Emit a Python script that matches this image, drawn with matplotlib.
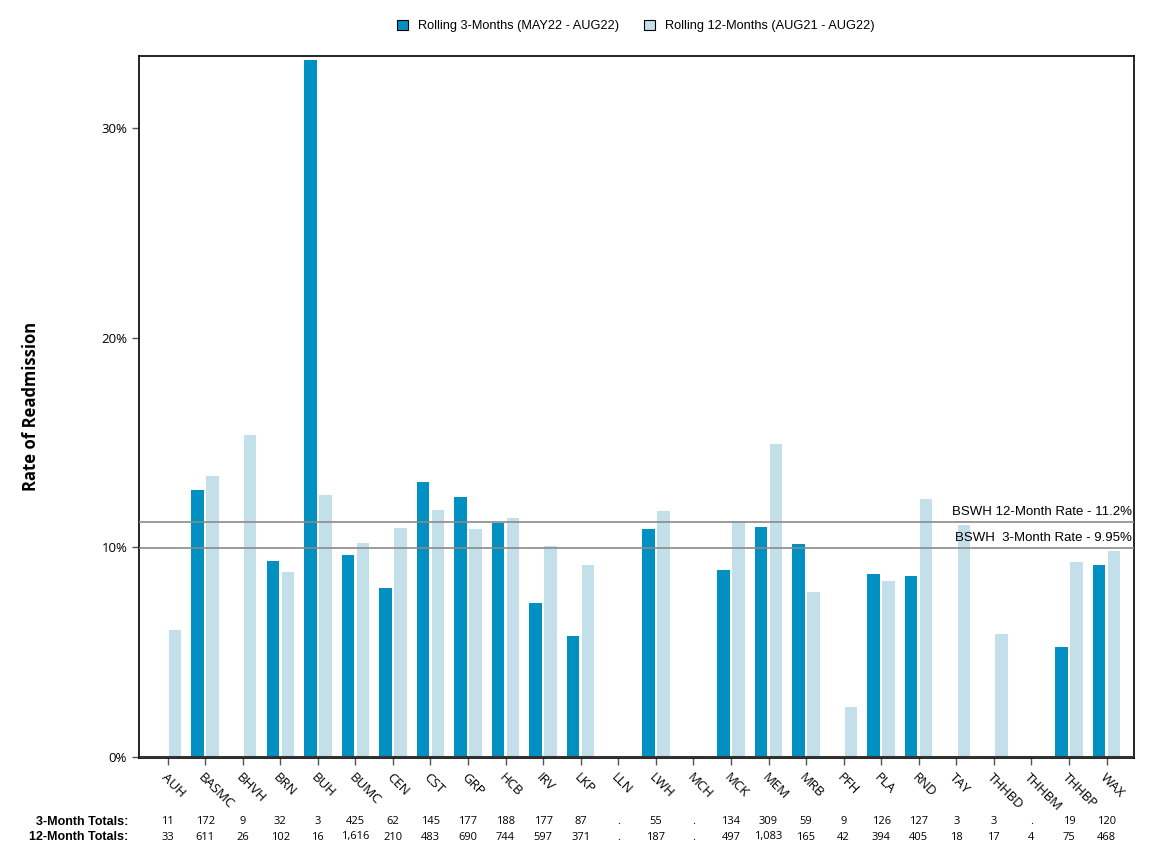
import numpy as np
import matplotlib
matplotlib.use("Agg")
import matplotlib.pyplot as plt
import matplotlib.transforms as mtransforms
from matplotlib.patches import Patch

# Hospital codes
sites = ["AUH", "BASMC", "BHVH", "BRN", "BUH", "BUMC", "CEN", "CST", "GRP", "HCB",
         "IRV", "LKP", "LLN", "LWH", "MCH", "MCK", "MEM", "MRB", "PFH", "PLA",
         "RND", "TAY", "THHBD", "THHBM", "THHBP", "WAX"]

# Readmission rates (%)
rate_3m = [0, 12.75, 0, 9.35, 33.24, 9.62, 8.05, 13.1, 12.4, 11.16,
           7.33, 5.75, 0, 10.89, 0, 8.94, 10.98, 10.14, 0, 8.71,
           8.65, 0, 0, 0, 5.25, 9.16]
rate_12m = [6.05, 13.38, 15.35, 8.81, 12.48, 10.19, 10.92, 11.78, 10.86, 11.38,
            10.05, 9.14, 0, 11.73, 0, 11.24, 14.92, 7.86, 2.38, 8.37,
            12.32, 11.08, 5.86, 0, 9.32, 9.81]

# Discharge totals (None = ".")
totals_3m = [11, 172, 9, 32, 3, 425, 62, 145, 177, 188, 177, 87, None, 55, None,
             134, 309, 59, 9, 126, 127, 3, 3, None, 19, 120]
totals_12m = [33, 611, 26, 102, 16, 1616, 210, 483, 690, 744, 597, 371, None, 187, None,
              497, 1083, 165, 42, 394, 405, 18, 17, 4, 75, 468]

system_12m = 11.2
system_3m = 9.95

dark = "#0090c1"
light = "#c3dfea"

fig = plt.figure(figsize=(11.52, 8.64), dpi=100)
ax = fig.add_axes([0.1207, 0.1227, 0.8633, 0.8128])

x = np.arange(len(sites))
ax.bar(x - 0.2, rate_3m, width=0.33, color=dark, zorder=2)
ax.bar(x + 0.2, rate_12m, width=0.33, color=light, zorder=2)

# System reference lines
ax.axhline(system_12m, color="#8a8a8a", lw=1.2, zorder=3)
ax.axhline(system_3m, color="#8a8a8a", lw=1.2, zorder=3)
ax.axhline(0, color="#333333", lw=2.2, zorder=4)
ax.text(25.68, system_12m + 0.2, "BSWH 12-Month Rate - 11.2%", ha="right", va="bottom",
        fontsize=9.5, family="Liberation Sans")
ax.text(25.68, system_3m + 0.2, "BSWH  3-Month Rate - 9.95%", ha="right", va="bottom",
        fontsize=9.5, family="Liberation Sans")

ax.set_xlim(-0.76, 25.72)
ax.set_ylim(-0.05, 33.45)
ax.set_yticks([0, 10, 20, 30])
ax.set_yticklabels(["0%", "10%", "20%", "30%"], family="Open Sans", fontsize=9.5)
ax.set_xticks(x)
ax.set_xticklabels(sites, rotation=-45, ha="left", va="top", rotation_mode="anchor",
                   family="Open Sans", fontsize=9.5)
for lab in ax.get_xticklabels():
    lab.set_transform(lab.get_transform() + mtransforms.ScaledTranslation(-8 / 72, -3 / 72, fig.dpi_scale_trans))
ax.tick_params(axis="both", color="#555555", length=5, width=1)
ax.tick_params(axis="x", pad=4)
ax.set_ylabel("Rate of Readmission", fontsize=12, fontweight="bold", family="Open Sans", labelpad=44)
for s in ax.spines.values():
    s.set_linewidth(1.2)

# Totals table under the axis
trans = mtransforms.blended_transform_factory(ax.transData, fig.transFigure)
row_y = [1 - 822 / 864, 1 - 837 / 864]
fig.text(128 / 1152, row_y[0], "3-Month Totals:", ha="right", va="center",
         fontsize=9, fontweight="bold", family="Liberation Sans")
fig.text(128 / 1152, row_y[1], "12-Month Totals:", ha="right", va="center",
         fontsize=9, fontweight="bold", family="Liberation Sans")
for i in range(len(sites)):
    for vals, yy in ((totals_3m, row_y[0]), (totals_12m, row_y[1])):
        v = vals[i]
        txt = "." if v is None else f"{v:,}"
        ax.text(i, yy, txt, transform=trans, ha="center", va="center",
                fontsize=8, family="Open Sans")

handles = [Patch(facecolor=dark, edgecolor="black", lw=0.8),
           Patch(facecolor=light, edgecolor="black", lw=0.8)]
fig.legend(handles, ["Rolling 3-Months (MAY22 - AUG22)", "Rolling 12-Months (AUG21 - AUG22)"],
           loc="center", bbox_to_anchor=(0.552, 1 - 26 / 864), ncol=2, frameon=False,
           prop={"family": "Liberation Sans", "size": 9.2}, handlelength=0.8, handleheight=0.8,
           columnspacing=2.0, handletextpad=0.8)

fig.savefig("out.png", dpi=100)
